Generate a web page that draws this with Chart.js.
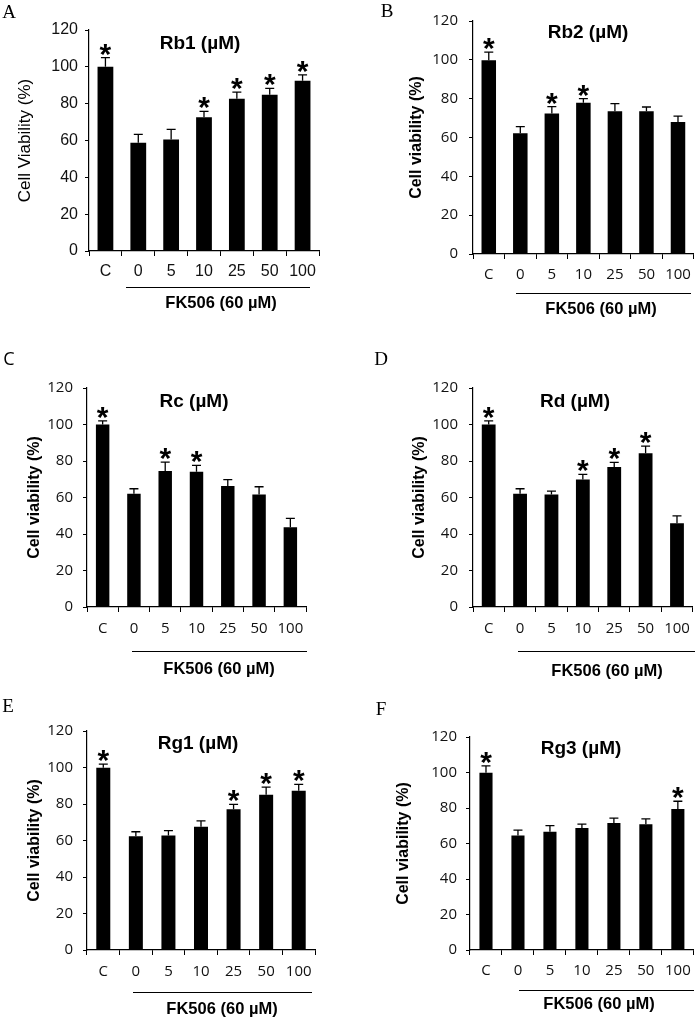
<!DOCTYPE html>
<html>
<head>
<meta charset="utf-8">
<script src="https://cdn.jsdelivr.net/npm/chart.js@4.4.1/dist/chart.umd.min.js"></script>
<style>
  body { margin: 0; background: #fff; }
  #page { position: relative; width: 698px; height: 1018px; overflow: hidden; background: #fff; }
  canvas { position: absolute; }
  .lbl { position: absolute; transform: translate(-50%, -50%); white-space: nowrap; line-height: 1; color: #000; }
  .letter { font-family: "Liberation Serif", serif; font-size: 19px; }
  .letter.sans { font-family: "Open Sans", sans-serif; font-size: 18px; }
  .title { font-family: "Liberation Sans", Arial, sans-serif; font-weight: bold; font-size: 19px; }
  .fk { font-family: "Liberation Sans", Arial, sans-serif; font-weight: bold; font-size: 16.5px; }
  .bracket { position: absolute; height: 0; border-top: 1.5px solid #000; }
</style>
</head>
<body>
<div id="page"></div>
<script>
// Cell viability after FK506 (60 µM) with ginsenoside co-treatment, six panels.

const categories = ["C", "0", "5", "10", "25", "50", "100"];
const yTicks = [0, 20, 40, 60, 80, 100, 120];

const rb1Means = [100, 58.8, 60.6, 72.6, 82.7, 84.9, 92.5];
const rb1Err   = [5.0, 4.5, 5.4, 3.2, 3.6, 3.4, 3.1];
const rb1Sig   = [1, 0, 0, 1, 1, 1, 1];

const rb2Means = [99.8, 62.2, 72.3, 77.9, 73.5, 73.5, 68.0];
const rb2Err   = [4.2, 3.4, 3.6, 2.1, 3.9, 2.2, 3.0];
const rb2Sig   = [1, 0, 1, 1, 0, 0, 0];

const rcMeans = [100, 62.1, 74.5, 74.1, 66.3, 61.7, 43.7];
const rcErr   = [2.0, 2.7, 4.9, 3.5, 3.5, 4.2, 4.9];
const rcSig   = [1, 0, 1, 1, 0, 0, 0];

const rdMeans = [100, 62.1, 61.7, 69.8, 76.7, 84.3, 45.9];
const rdErr   = [2.0, 2.7, 1.8, 2.9, 2.5, 3.9, 4.0];
const rdSig   = [1, 0, 0, 1, 1, 1, 0];

const rg1Means = [99.9, 62.3, 62.8, 67.6, 77.1, 85.1, 87.3];
const rg1Err   = [2.0, 2.5, 2.6, 3.1, 2.7, 4.2, 3.5];
const rg1Sig   = [1, 0, 0, 0, 1, 1, 1];

const rg3Means = [99.8, 64.5, 66.6, 68.8, 71.6, 70.9, 79.5];
const rg3Err   = [3.9, 3.0, 3.5, 2.1, 2.7, 3.0, 4.3];
const rg3Sig   = [1, 0, 0, 0, 0, 0, 1];

const ARIAL = '"Liberation Sans", Arial, sans-serif';
const KOR = '"Open Sans", "Noto Sans CJK KR", sans-serif';

// page layout of each panel (canvas box + plot area + text spots)
const panels = [
  { key: "A", means: rb1Means, err: rb1Err, sig: rb1Sig, name: "Rb1 (µM)", yTitle: "Cell Viability (%)",
    box: [0, 0, 349, 330], area: [89, 30, 319, 251], titleOff: 64, bar: 0.48,
    tickFont: { family: ARIAL, size: 16 }, titleFont: { family: ARIAL, size: 17 }, xPad: 6, yPad: 7,
    letter: [9, 11], head: [200, 42], line: [126, 310, 287], fk: [221, 302] },
  { key: "B", means: rb2Means, err: rb2Err, sig: rb2Sig, name: "Rb2 (µM)", yTitle: "Cell viability (%)",
    box: [349, 0, 349, 330], area: [473, 21, 696, 254], titleOff: 56, bar: 0.46,
    tickFont: { family: KOR, size: 15 }, titleFont: { family: ARIAL, size: 16, weight: "bold" }, xPad: 7, yPad: 11,
    letter: [387, 10], head: [588, 31], line: [516, 691, 293], fk: [601, 308] },
  { key: "C", means: rcMeans, err: rcErr, sig: rcSig, name: "Rc (µM)", yTitle: "Cell viability (%)",
    box: [0, 330, 349, 350], area: [87, 388, 306, 607], titleOff: 52, bar: 0.43, sans: true,
    tickFont: { family: KOR, size: 15 }, titleFont: { family: ARIAL, size: 16, weight: "bold" }, xPad: 8, yPad: 10,
    letter: [9, 358], head: [194, 400], line: [132, 307, 651], fk: [219, 668] },
  { key: "D", means: rdMeans, err: rdErr, sig: rdSig, name: "Rd (µM)", yTitle: "Cell viability (%)",
    box: [349, 330, 349, 350], area: [473, 388, 696, 607], titleOff: 53, bar: 0.44,
    tickFont: { family: KOR, size: 15 }, titleFont: { family: ARIAL, size: 16, weight: "bold" }, xPad: 8, yPad: 11,
    letter: [381, 358], head: [575, 400], line: [518, 695, 651], fk: [607, 670] },
  { key: "E", means: rg1Means, err: rg1Err, sig: rg1Sig, name: "Rg1 (µM)", yTitle: "Cell viability (%)",
    box: [0, 680, 349, 338], area: [87, 731, 315, 950], titleOff: 52, bar: 0.43,
    tickFont: { family: KOR, size: 15 }, titleFont: { family: ARIAL, size: 16, weight: "bold" }, xPad: 8, yPad: 10,
    letter: [8, 705], head: [198, 742], line: [133, 312, 992], fk: [222, 1008] },
  { key: "F", means: rg3Means, err: rg3Err, sig: rg3Sig, name: "Rg3 (µM)", yTitle: "Cell viability (%)",
    box: [349, 680, 349, 338], area: [470, 737, 694, 950], titleOff: 66, bar: 0.41,
    tickFont: { family: KOR, size: 15 }, titleFont: { family: ARIAL, size: 16, weight: "bold" }, xPad: 7, yPad: 9,
    letter: [381, 708], head: [581, 747], line: [519, 694, 990], fk: [599, 1003] }
];

const page = document.getElementById("page");

function addLabel(cls, text, pos) {
  const d = document.createElement("div");
  d.className = "lbl " + cls;
  d.textContent = text;
  d.style.left = pos[0] + "px";
  d.style.top = pos[1] + "px";
  page.appendChild(d);
}

// whiskers (upper only) + significance stars
function errorBarPlugin(p) {
  return {
    id: "errbars" + p.key,
    afterDatasetsDraw(chart) {
      const ctx = chart.ctx;
      const y = chart.scales.y;
      const bars = chart.getDatasetMeta(0).data;
      ctx.save();
      ctx.strokeStyle = "#000";
      ctx.fillStyle = "#000";
      ctx.lineWidth = 1.3;
      ctx.font = "bold 30px " + ARIAL;
      ctx.textAlign = "center";
      const m = ctx.measureText("*");
      bars.forEach(function (bar, i) {
        const top = y.getPixelForValue(p.means[i] + p.err[i]);
        ctx.beginPath();
        ctx.moveTo(bar.x, bar.y);
        ctx.lineTo(bar.x, top);
        ctx.moveTo(bar.x - 4.5, top);
        ctx.lineTo(bar.x + 4.5, top);
        ctx.stroke();
        if (p.sig[i]) {
          const base = top - 2 - m.actualBoundingBoxDescent;
          ctx.fillText("*", bar.x, base);
        }
      });
      ctx.restore();
    }
  };
}

panels.forEach(function (p) {
  const [bx, by, bw, bh] = p.box;
  const [al, at, ar, ab] = p.area;
  const yWidth = p.titleOff + Math.round(p.titleFont.size * 1.2 / 2);
  const xHeight = 40;

  const cv = document.createElement("canvas");
  cv.width = bw; cv.height = bh;
  cv.style.left = bx + "px"; cv.style.top = by + "px";
  page.appendChild(cv);

  new Chart(cv.getContext("2d"), {
    type: "bar",
    data: {
      labels: categories,
      datasets: [{ data: p.means, backgroundColor: "#000", borderWidth: 0,
                   barPercentage: p.bar, categoryPercentage: 1 }]
    },
    options: {
      responsive: false,
      animation: false,
      devicePixelRatio: 1,
      layout: { padding: { left: al - bx - yWidth, top: at - by, right: bx + bw - ar, bottom: by + bh - ab - xHeight } },
      plugins: { legend: { display: false }, tooltip: { enabled: false } },
      scales: {
        x: {
          offset: true,
          grid: { offset: true, drawOnChartArea: false, tickLength: 5, color: "#000", lineWidth: 1 },
          border: { color: "#000", width: 1.2 },
          ticks: { font: p.tickFont, color: "#111", padding: p.xPad, maxRotation: 0, autoSkip: false },
          afterFit: function (s) { s.height = xHeight; }
        },
        y: {
          min: 0, max: 120,
          afterBuildTicks: function (s) { s.ticks = yTicks.map(function (v) { return { value: v }; }); },
          grid: { drawOnChartArea: false, tickLength: 4, color: "#000", lineWidth: 1 },
          border: { color: "#000", width: 1.2 },
          ticks: { font: p.tickFont, color: "#111", padding: p.yPad },
          title: { display: true, text: p.yTitle, font: p.titleFont, color: "#000", padding: 0 },
          afterFit: function (s) { s.width = yWidth; }
        }
      }
    },
    plugins: [errorBarPlugin(p)]
  });

  addLabel("letter" + (p.sans ? " sans" : ""), p.key, p.letter);
  addLabel("title", p.name, p.head);
  addLabel("fk", "FK506 (60 µM)", p.fk);
  const ln = document.createElement("div");
  ln.className = "bracket";
  ln.style.left = p.line[0] + "px";
  ln.style.width = (p.line[1] - p.line[0]) + "px";
  ln.style.top = p.line[2] + "px";
  page.appendChild(ln);
});
</script>
</body>
</html>
